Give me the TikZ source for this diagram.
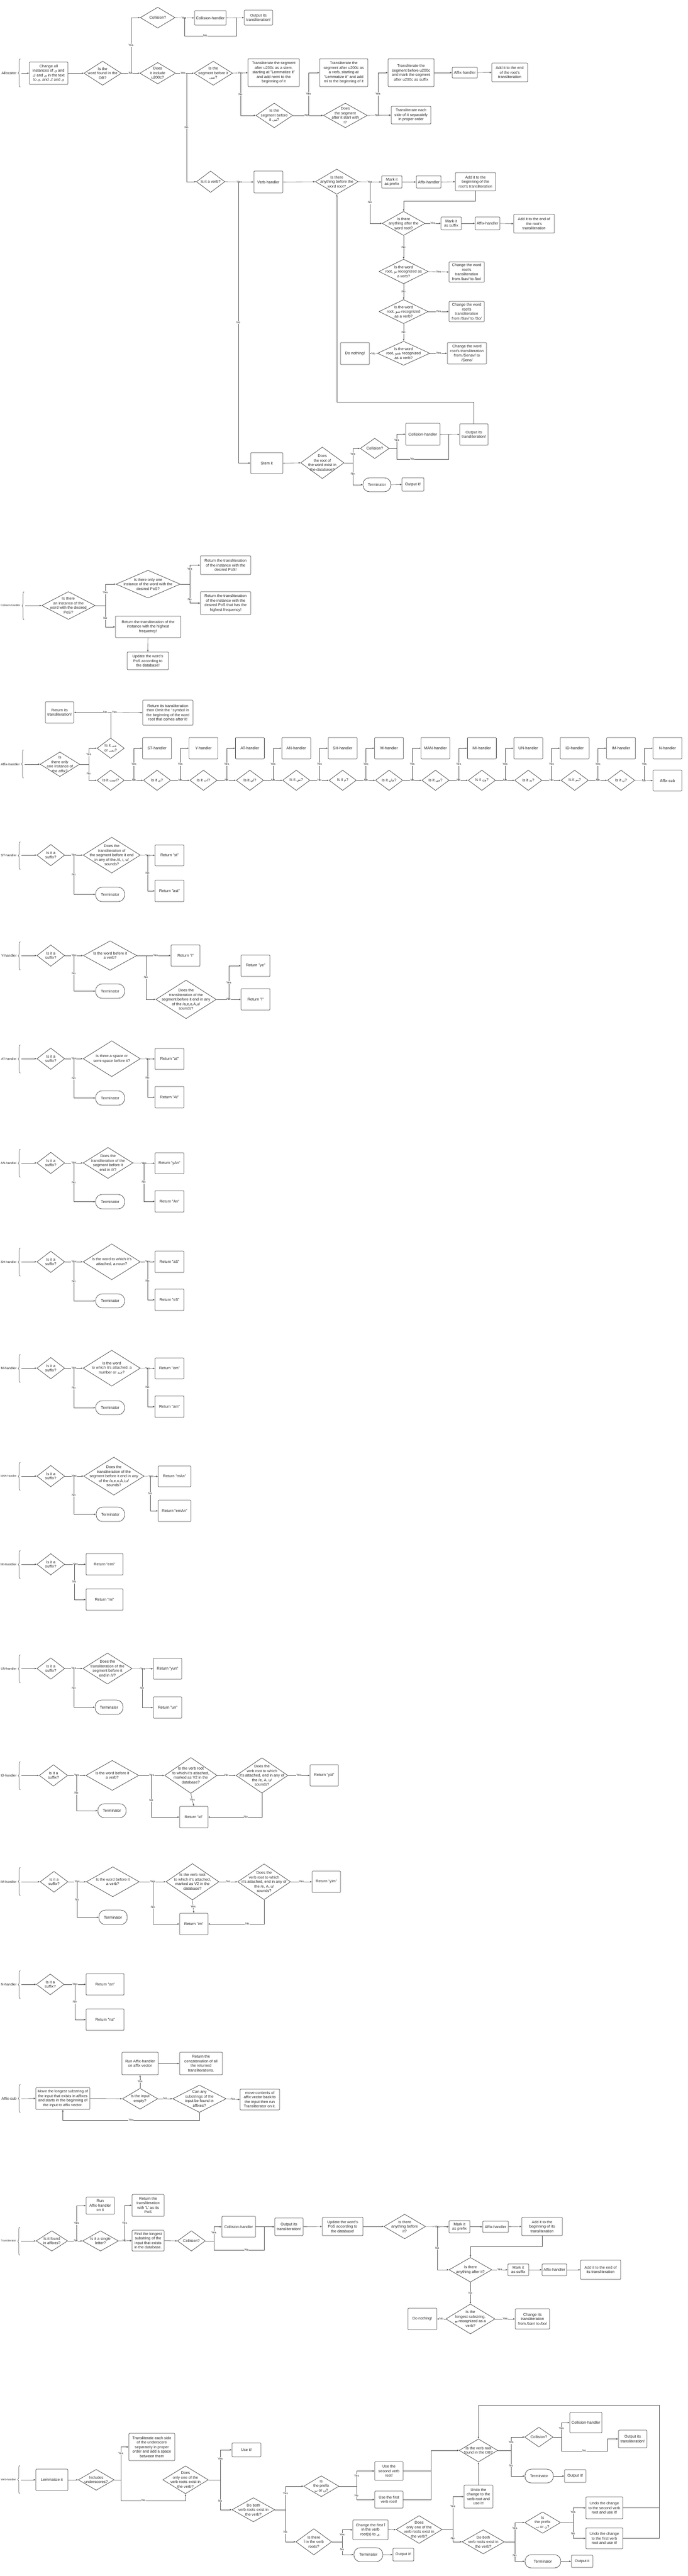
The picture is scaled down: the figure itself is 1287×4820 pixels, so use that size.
\documentclass[tikz,border=0pt]{standalone}
\usepackage{fontspec}
\setmainfont{Liberation Sans}
\newfontfamily\arfont[Script=Arabic,Scale=0.9]{DejaVu Sans}
\TeXXeTstate=1
\newcommand\AR[1]{{\arfont\beginR #1\endR}}
\usetikzlibrary{shapes.geometric,arrows.meta,decorations.pathreplacing}
\tikzset{
 base/.style={font=\fontsize{7.2}{8.5}\selectfont, text=black!85, align=center, inner sep=0pt},
 bx/.style={base, draw=black!75, line width=0.7pt, rectangle, rounded corners=1.2pt},
 tm/.style={base, draw=black!75, line width=0.7pt, rectangle, rounded corners=12pt},
 dm/.style={draw=black!75, line width=0.7pt, diamond, inner sep=0pt},
 dtx/.style={base},
 arr/.style={draw=black!65, line width=0.6pt, -{Latex[length=3.5pt,width=3pt]}},
 ln/.style={draw=black!65, line width=0.6pt},
 lbl/.style={font=\fontsize{5.6}{6}\selectfont, fill=white, inner sep=0.6pt, text=black!85},
 seclab/.style={text=black!85, anchor=east, inner sep=0pt},
 brc/.style={draw=black!70, line width=0.6pt, decorate, decoration={brace, amplitude=4pt}},
}
\newcommand\bxx[6]{\node[bx,minimum width={(#4)-(#2)},minimum height={(#5)-(#3)}] (#1) at ({((#2)+(#4))/2},{((#3)+(#5))/2}) {#6};}
\newcommand\tmm[6]{\node[tm,minimum width={(#4)-(#2)},minimum height={(#5)-(#3)}] (#1) at ({((#2)+(#4))/2},{((#3)+(#5))/2}) {#6};}
\newcommand\dmd[6]{\node[dm,minimum width=#4,minimum height=#5] (#1) at (#2,#3) {}; \node[dtx] at (#1.center) {#6};}
\newcommand\seclabel[7][7.2]{\node[seclab,font=\fontsize{#1}{8}\selectfont] (#2) at ({(#6)-7},#3) {#7}; \draw[brc] (#6,#5) -- (#6,#4); \coordinate (#2c) at ({(#6)+2},#3);}
\begin{document}
\begin{tikzpicture}[x=1pt,y=-1pt]
\fill[white] (0,0) rectangle (1287,4820);
\useasboundingbox (0,0) rectangle (1287,4820);

%================ Allocator =================
\seclabel{alloc}{137}{110}{163}{38}{Allocator}
\bxx{a1}{55}{116}{127}{158}{Change all\\instances of \AR{ي} and\\\AR{ك} and \AR{ى} in the text\\to \AR{ی}, and \AR{ک} and \AR{ی}}
\dmd{a2}{192}{137}{70}{45}{Is the\\word found in the\\DB?}
\dmd{a3}{295}{33}{65}{39}{Collision?}
\bxx{a4}{364}{20}{423}{47}{Collision-handler}
\bxx{a5}{457}{19}{510}{47}{Output its\\transliteration!}
\dmd{a6}{295}{137}{67}{40}{Does\\it include\\u200c?}
\dmd{a7}{399}{137}{72}{45}{Is the\\segment before it\\\AR{نمی}?}
\bxx{b1}{464}{110}{560}{162}{Transliterate the segment\\after u200c as a stem,\\starting at "Lemmatize it"\\and add nemi to the\\beginning of it}
\bxx{b2}{598}{110}{688}{162}{Transliterate the\\segment after u200c as\\a verb, starting at\\"Lemmatize it" and add\\mi to the beginning of it}
\bxx{b3}{726}{110}{812}{162}{Transliterate the\\segment before u200c\\and mark the segment\\after u200c as suffix}
\bxx{b4}{846}{126}{893}{146}{Affix-handler}
\bxx{b5}{920}{118}{987}{153}{Add it to the end\\of the root's\\transliteration}
\dmd{a8}{513}{216}{69}{46}{Is the\\segment before\\it \AR{می}?}
\dmd{a9}{646}{216}{82}{46}{Does\\the segment\\after it start with\\\AR{ا}?}
\bxx{b6}{732}{199}{806}{232}{Transliterate each\\side of it separately\\in proper order}

\draw[arr] (allocc) -- (a1.west);
\draw[arr] (a1.east) -- (a2.west);
\draw[arr] (a2.east) -- node[lbl]{No} (a6.west);
\draw[arr] (245,137) |- node[lbl,pos=.25]{Yes} (a3.west);
\draw[arr] (a3.east) -- node[lbl,pos=.45]{Yes} (a4.west);
\draw[arr] (a4.east) -- (a5.west);
\draw[ln] (345,33) -- (345,67) -- node[lbl,pos=.4]{No} (442,67) -- (442,33);
\draw[arr] (a6.east) -- node[lbl,pos=.4]{Yes} (a7.west);
\draw[arr] (a7.east) -- node[lbl]{Yes} (b1.west);
\draw[arr] (450,137) |- node[lbl,pos=.25]{No} (a8.west);
\draw[arr] (a8.east) -- node[lbl,pos=.45]{No} (a9.west);
\draw[arr] (577,216) |- node[lbl,pos=.25]{Yes} (b2.west);
\draw[arr] (a9.east) -- node[lbl,pos=.4]{No} (b6.west);
\draw[arr] (707,216) |- node[lbl,pos=.25]{Yes} (b3.west);
\draw[arr] (b3.east) -- (b4.west);
\draw[arr] (b4.east) -- (b5.west);

%================ Verb part =================
\dmd{c1}{394}{340}{53}{40}{Is it a verb?}
\bxx{c2}{475}{320}{529}{361}{Verb-handler}
\dmd{c3}{630}{340}{80}{47}{Is there\\anything before the\\word root?}
\bxx{c4}{714}{329}{752}{352}{Mark it\\as prefix}
\bxx{c5}{779}{329}{825}{352}{Affix-handler}
\bxx{c6}{852}{323}{927}{357}{Add it to the\\beginning of the\\root's transliteration}
\dmd{c7}{755}{418}{80}{45}{Is there\\anything after the\\word root?}
\bxx{c8}{825}{406}{863}{430}{Mark it\\as suffix}
\bxx{c9}{889}{406}{935}{430}{Affix-handler}
\bxx{c10}{961}{401}{1037}{436}{Add it to the end of\\the root's\\transliteration}
\dmd{c11}{755}{508}{92}{46}{Is the word\\root, \AR{بو} recognized as\\a verb?}
\bxx{c12}{840}{490}{906}{528}{Change the word\\root's\\transliteration\\from /bav/ to /bo/}
\dmd{c13}{755}{583}{92}{45}{Is the word\\root, \AR{شو} recognized\\as a verb?}
\bxx{c14}{840}{564}{906}{602}{Change the word\\root's\\transliteration\\from /Sav/ to /So/}
\dmd{c15}{755}{661}{98}{45}{Is the word\\root, \AR{شنو} recognized\\as a verb?}
\bxx{c16}{837}{641}{910}{681}{Change the word\\root's transliteration\\from /Senav/ to\\/Seno/}
\bxx{c17}{637}{641}{691}{682}{Do nothing!}
\bxx{c18}{469}{847}{529}{886}{Stem it}
\dmd{c19}{603}{866}{81}{59}{Does\\the root of\\the word exist in\\the database?}
\dmd{c20}{701}{839}{54}{38}{Collision?}
\bxx{c21}{759}{792}{823}{833}{Collision-handler}
\bxx{c22}{860}{793}{913}{833}{Output its\\transliteration!}
\tmm{c23}{679}{894}{731}{920}{Terminator}
\bxx{c24}{752}{894}{793}{919}{Output it!}

\draw[arr] (349,137) |- node[lbl,pos=.25]{No} (c1.west);
\draw[arr] (c1.east) -- node[lbl]{Yes} (c2.west);
\draw[arr] (446,340) |- node[lbl,pos=.25]{No} (c18.west);
\draw[arr] (c2.east) -- (c3.west);
\draw[arr] (c3.east) -- node[lbl]{Yes} (c4.west);
\draw[arr] (692,340) |- node[lbl,pos=.25]{No} (c7.west);
\draw[arr] (c4.east) -- (c5.west);
\draw[arr] (c5.east) -- (c6.west);
\draw[arr] (c6.south) -- (889.5,376) -| (c7.north);
\draw[arr] (c7.east) -- node[lbl]{Yes} (c8.west);
\draw[arr] (c8.east) -- (c9.west);
\draw[arr] (c9.east) -- (c10.west);
\draw[arr] (c7.south) -- node[lbl]{No} (c11.north);
\draw[arr] (c11.east) -- node[lbl]{Yes} (c12.west);
\draw[arr] (c11.south) -- node[lbl]{No} (c13.north);
\draw[arr] (c13.east) -- node[lbl]{Yes} (c14.west);
\draw[arr] (c13.south) -- node[lbl]{No} (c15.north);
\draw[arr] (c15.east) -- node[lbl]{Yes} (c16.west);
\draw[arr] (c15.west) -- node[lbl]{No} (c17.east);
\draw[arr] (c22.north) -- (886.5,752) -| (c3.south);
\draw[arr] (c18.east) -- (c19.west);
\draw[ln] (c19.east) -- (660,866);
\draw[arr] (660,866) |- node[lbl,pos=.3]{Yes} (c20.west);
\draw[arr] (660,866) |- node[lbl,pos=.25]{No} (c23.west);
\draw[ln] (c20.east) -- (742,839);
\draw[arr] (742,839) |- node[lbl,pos=.3]{Yes} (c21.west);
\draw[ln] (742,839) -- (742,859) -- node[lbl,pos=.3]{No} (839,859) -- (839,813);
\draw[arr] (c21.east) -- (c22.west);
\draw[arr] (c23.east) -- (c24.west);

%================ Collision-handler =================
\seclabel[4.9]{coll}{1133}{1107}{1160}{45}{Collision-handler}
\dmd{d1}{128}{1133}{100}{52}{Is there\\an instance of the\\word with the desired\\PoS?}
\dmd{d2}{277}{1093}{120}{52}{Is there only one\\instance of the word with the\\desired PoS?}
\bxx{d3}{375}{1040}{469}{1075}{Return the transliteration\\of the instance with the\\desired PoS!}
\bxx{d4}{375}{1107}{469}{1150}{Return the transliteration\\of the instance with the\\desired PoS that has the\\highest frequency!}
\bxx{d5}{216}{1153}{338}{1193}{Return the transliteration of the\\instance with the highest\\frequency!}
\bxx{d6}{238}{1220}{315}{1253}{Update the word's\\PoS according to\\the database!}
\draw[arr] (collc) -- (d1.west);
\draw[ln] (d1.east) -- (197,1133);
\draw[arr] (197,1133) |- node[lbl,pos=.3]{Yes} (d2.west);
\draw[arr] (197,1133) |- node[lbl,pos=.3]{No} (d5.west);
\draw[ln] (d2.east) -- (355,1093);
\draw[arr] (355,1093) |- node[lbl,pos=.4]{Yes} (d3.west);
\draw[arr] (355,1093) |- node[lbl,pos=.4]{No} (d4.west);
\draw[arr] (d5.south) -- (d6.north);

%================ Affix-handler =================
\seclabel[6.3]{affh}{1430}{1403}{1456}{44}{Affix-handler}
\dmd{e1}{112}{1430}{74}{46}{Is\\there only\\one instance of\\the affix?}
\dmd{e2}{207}{1400}{51}{38}{Is it \AR{می}\\or \AR{نمی}?}
\bxx{e3}{85}{1313}{138}{1353}{Return its\\transliteration!}
\bxx{e4}{267}{1310}{361}{1357}{Return its transliteration\\then Omit the ' symbol in\\the beginning of the word\\root that comes after it!}

\dmd{f0}{207}{1460}{51}{38}{Is it \AR{است}?}
\dmd{f1}{293.8}{1460}{51}{38}{Is it \AR{ی}?}
\dmd{f2}{380.6}{1460}{51}{38}{Is it \AR{ات}?}
\dmd{f3}{467.4}{1460}{51}{38}{Is it \AR{ان}?}
\dmd{f4}{554.2}{1460}{51}{38}{Is it \AR{ش}?}
\dmd{f5}{641}{1460}{51}{38}{Is it \AR{م}?}
\dmd{f6}{727.8}{1460}{51}{38}{Is it \AR{مان}?}
\dmd{f7}{814.6}{1460}{51}{38}{Is it \AR{می}?}
\dmd{f8}{901.4}{1460}{51}{38}{Is it \AR{ون}?}
\dmd{f9}{988.2}{1460}{51}{38}{Is it \AR{ید}?}
\dmd{f10}{1075}{1460}{51}{38}{Is it \AR{یم}?}
\dmd{f11}{1161.8}{1460}{51}{38}{Is it \AR{ن}?}
\bxx{g0}{266.8}{1380}{320.8}{1420}{ST-handler}
\bxx{g1}{353.6}{1380}{407.6}{1420}{Y-handler}
\bxx{g2}{440.4}{1380}{494.4}{1420}{AT-handler}
\bxx{g3}{527.2}{1380}{581.2}{1420}{AN-handler}
\bxx{g4}{614}{1380}{668}{1420}{SH-handler}
\bxx{g5}{700.8}{1380}{754.8}{1420}{M-handler}
\bxx{g6}{787.6}{1380}{841.6}{1420}{MAN-handler}
\bxx{g7}{874.4}{1380}{928.4}{1420}{MI-handler}
\bxx{g8}{961.2}{1380}{1015.2}{1420}{UN-handler}
\bxx{g9}{1048}{1380}{1102}{1420}{ID-handler}
\bxx{g10}{1134.8}{1380}{1188.8}{1420}{IM-handler}
\bxx{g11}{1221.6}{1380}{1275.6}{1420}{N-handler}
\bxx{h0}{1221.6}{1441}{1275.6}{1480}{Affix-sub}

\draw[arr] (affhc) -- (e1.west);
\draw[ln] (e1.east) -- (166,1430);
\draw[arr] (166,1430) |- node[lbl,pos=.3]{Yes} (e2.west);
\draw[arr] (166,1430) |- node[lbl,pos=.3]{No} (f0.west);
\draw[ln] (e2.north) -- (207,1333);
\draw[arr] (207,1333) -- node[lbl,pos=.15]{No} (e3.east);
\draw[arr] (207,1333) -- node[lbl,pos=.12]{Yes} (e4.west);
\foreach \i/\j in {0/1,1/2,2/3,3/4,4/5,5/6,6/7,7/8,8/9,9/10,10/11}{
  \draw[arr] (f\i.east) -- node[lbl]{No} (f\j.west);
}
\draw[arr] (f11.east) -- node[lbl]{No} (h0.west);
\foreach \i in {0,...,11}{
  \pgfmathsetmacro\bxp{250.4+86.8*\i}
  \draw[arr] (\bxp,1460) |- node[lbl,pos=.25]{Yes} (g\i.west);
}

%================ ST-handler =================
\seclabel[5.9]{st}{1600}{1575}{1627}{38}{ST-handler}
\dmd{st1}{95}{1600}{52}{40}{Is it a\\suffix?}
\dmd{st2}{209}{1600}{107}{67}{Does the\\transliteration of\\the segment before it end\\in any of the /A, i, u/\\sounds?}
\bxx{st3}{290}{1581}{344}{1620}{Return "st"}
\bxx{st4}{290}{1647}{344}{1687}{Return "ast"}
\tmm{st5}{179}{1660}{233}{1687}{Terminator}
\draw[arr] (stc) -- (st1.west);
\draw[arr] (st1.east) -- node[lbl]{Yes} (st2.west);
\draw[arr] (138,1600) |- node[lbl,pos=.25]{No} (st5.west);
\draw[arr] (st2.east) -- node[lbl]{Yes} (st3.west);
\draw[arr] (276,1600) |- node[lbl,pos=.25]{No} (st4.west);

%================ Y-handler =================
\seclabel[6.7]{yh}{1788}{1762}{1815}{38}{Y-handler}
\dmd{y1}{95}{1788}{52}{40}{Is it a\\suffix?}
\dmd{y2}{206}{1788}{100}{55}{Is the word before it\\a verb?}
\bxx{y3}{320}{1768}{374}{1808}{Return "i"}
\dmd{y4}{348}{1870}{113}{72}{Does the\\transliteration of the\\segment before it end in any\\of the /a,e,o,A,u/\\sounds?}
\bxx{y5}{451}{1787}{505}{1827}{Return "ye"}
\bxx{y6}{451}{1850}{505}{1890}{Return "i"}
\tmm{y7}{179}{1841}{233}{1868}{Terminator}
\draw[arr] (yhc) -- (y1.west);
\draw[arr] (y1.east) -- node[lbl]{Yes} (y2.west);
\draw[arr] (138,1788) |- node[lbl,pos=.25]{No} (y7.west);
\draw[arr] (y2.east) -- node[lbl,pos=.55]{Yes} (y3.west);
\draw[arr] (273,1788) |- node[lbl,pos=.25]{No} (y4.west);
\draw[arr] (y4.east) -- node[lbl]{No} (y6.west);
\draw[arr] (428,1870) |- node[lbl,pos=.25]{Yes} (y5.west);

%================ AT-handler =================
\seclabel[5.9]{ath}{1981}{1955}{2008}{38}{AT-handler}
\dmd{at1}{95}{1981}{52}{40}{Is it a\\suffix?}
\dmd{at2}{209}{1981}{107}{67}{Is there a space or\\semi-space before it?}
\bxx{at3}{290}{1962}{344}{2001}{Return "at"}
\bxx{at4}{290}{2033}{344}{2073}{Return "At"}
\tmm{at5}{179}{2041}{233}{2068}{Terminator}
\draw[arr] (athc) -- (at1.west);
\draw[arr] (at1.east) -- node[lbl]{Yes} (at2.west);
\draw[arr] (138,1981) |- node[lbl,pos=.25]{No} (at5.west);
\draw[arr] (at2.east) -- node[lbl]{Yes} (at3.west);
\draw[arr] (276,1981) |- node[lbl,pos=.25]{No} (at4.west);

%================ AN-handler =================
\seclabel[5.8]{anh}{2176}{2150}{2203}{38}{AN-handler}
\dmd{an1}{95}{2176}{52}{40}{Is it a\\suffix?}
\dmd{an2}{202}{2176}{93}{58}{Does the\\transliteration of the\\segment before it\\end in /i/?}
\bxx{an3}{290}{2157}{344}{2196}{Return "yAn"}
\bxx{an4}{290}{2228}{344}{2268}{Return "An"}
\tmm{an5}{179}{2235}{233}{2262}{Terminator}
\draw[arr] (anhc) -- (an1.west);
\draw[arr] (an1.east) -- node[lbl]{Yes} (an2.west);
\draw[arr] (138,2176) |- node[lbl,pos=.25]{No} (an5.west);
\draw[arr] (an2.east) -- node[lbl]{Yes} (an3.west);
\draw[arr] (269,2176) |- node[lbl,pos=.25]{No} (an4.west);

%================ SH-handler =================
\seclabel[5.8]{shh}{2361}{2335}{2388}{38}{SH-handler}
\dmd{sh1}{95}{2361}{52}{40}{Is it a\\suffix?}
\dmd{sh2}{209}{2361}{107}{67}{Is the word to which it's\\attached, a noun?}
\bxx{sh3}{290}{2341}{344}{2381}{Return "aS"}
\bxx{sh4}{290}{2412}{344}{2452}{Return "eS"}
\tmm{sh5}{179}{2421}{233}{2447}{Terminator}
\draw[arr] (shhc) -- (sh1.west);
\draw[arr] (sh1.east) -- node[lbl]{Yes} (sh2.west);
\draw[arr] (138,2361) |- node[lbl,pos=.25]{No} (sh5.west);
\draw[arr] (sh2.east) -- node[lbl]{Yes} (sh3.west);
\draw[arr] (276,2361) |- node[lbl,pos=.25]{No} (sh4.west);

%================ M-handler =================
\seclabel[6.5]{mh}{2560}{2534}{2587}{38}{M-handler}
\dmd{m1}{95}{2560}{52}{40}{Is it a\\suffix?}
\dmd{m2}{209}{2560}{107}{67}{Is the word\\to which it's attached, a\\number or \AR{چند}?}
\bxx{m3}{290}{2541}{344}{2580}{Return "om"}
\bxx{m4}{290}{2612}{344}{2652}{Return "am"}
\tmm{m5}{179}{2621}{233}{2647}{Terminator}
\draw[arr] (mhc) -- (m1.west);
\draw[arr] (m1.east) -- node[lbl]{Yes} (m2.west);
\draw[arr] (138,2560) |- node[lbl,pos=.25]{No} (m5.west);
\draw[arr] (m2.east) -- node[lbl]{Yes} (m3.west);
\draw[arr] (276,2560) |- node[lbl,pos=.25]{No} (m4.west);

%================ MAN-handler =================
\seclabel[5.0]{manh}{2762}{2736}{2789}{38}{MAN-handler}
\dmd{man1}{95}{2762}{52}{40}{Is it a\\suffix?}
\dmd{man2}{213}{2762}{113}{71}{Does the\\transliteration of the\\segment before it end in any\\of the /a,e,o,A,i,u/\\sounds?}
\bxx{man3}{296}{2743}{357}{2782}{Return "mAn"}
\bxx{man4}{296}{2807}{357}{2847}{Return "emAn"}
\tmm{man5}{180}{2820}{233}{2847}{Terminator}
\draw[arr] (manhc) -- (man1.west);
\draw[arr] (man1.east) -- node[lbl]{Yes} (man2.west);
\draw[arr] (138,2762) |- node[lbl,pos=.25]{No} (man5.west);
\draw[arr] (man2.east) -- node[lbl]{Yes} (man3.west);
\draw[arr] (281,2762) |- node[lbl,pos=.25]{No} (man4.west);

%================ MI-handler =================
\seclabel[6.2]{mih}{2927}{2901}{2954}{38}{MI-handler}
\dmd{mi1}{95}{2927}{52}{40}{Is it a\\suffix?}
\bxx{mi2}{161}{2907}{230}{2947}{Return "emi"}
\bxx{mi3}{161}{2973}{230}{3013}{Return "mi"}
\draw[arr] (mihc) -- (mi1.west);
\draw[arr] (mi1.east) -- node[lbl]{Yes} (mi2.west);
\draw[arr] (139,2927) |- node[lbl,pos=.25]{No} (mi3.west);

%================ UN-handler =================
\seclabel[5.7]{unh}{3122}{3096}{3149}{38}{UN-handler}
\dmd{un1}{95}{3122}{52}{40}{Is it a\\suffix?}
\dmd{un2}{201}{3122}{92}{58}{Does the\\transliteration of the\\segment before it\\end in /i/?}
\bxx{un3}{287}{3103}{340}{3142}{Return "yun"}
\bxx{un4}{287}{3175}{340}{3215}{Return "un"}
\tmm{un5}{178}{3181}{230}{3208}{Terminator}
\draw[arr] (unhc) -- (un1.west);
\draw[arr] (un1.east) -- node[lbl]{Yes} (un2.west);
\draw[arr] (138,3122) |- node[lbl,pos=.25]{No} (un5.west);
\draw[arr] (un2.east) -- node[lbl]{Yes} (un3.west);
\draw[arr] (266,3122) |- node[lbl,pos=.25]{No} (un4.west);

%================ ID-handler =================
\seclabel[6.3]{idh}{3322}{3296}{3349}{38}{ID-handler}
\dmd{id1}{100}{3322}{53}{40}{Is it a\\suffix?}
\dmd{id2}{210}{3322}{99}{56}{Is the word before it\\a verb?}
\dmd{id3}{357}{3322}{98}{67}{Is the verb root\\to which it's attached,\\marked as V2 in the\\database?}
\dmd{id4}{490}{3322}{97}{66}{Does the\\verb root to which\\it's attached, end in any of\\the /e, A, u/\\sounds?}
\bxx{id5}{580}{3302}{633}{3342}{Return "yid"}
\bxx{id6}{336}{3380}{389}{3420}{Return "id"}
\tmm{id7}{183}{3375}{236}{3401}{Terminator}
\draw[arr] (idhc) -- (id1.west);
\draw[arr] (id1.east) -- node[lbl]{Yes} (id2.west);
\draw[arr] (143,3322) |- node[lbl,pos=.25]{No} (id7.west);
\draw[arr] (id2.east) -- node[lbl]{Yes} (id3.west);
\draw[arr] (283,3322) |- node[lbl,pos=.3]{No} (id6.west);
\draw[arr] (id3.east) -- node[lbl]{No} (id4.west);
\draw[arr] (id4.east) -- node[lbl]{Yes} (id5.west);
\draw[arr] (id3.south) -- node[lbl]{Yes} (id6.north);
\draw[arr] (id4.south) |- node[lbl,pos=.65]{No} (id6.east);

%================ IM-handler =================
\seclabel[6.2]{imh}{3521}{3494}{3547}{38}{IM-handler}
\dmd{im1}{101}{3521}{52}{39}{Is it a\\suffix?}
\dmd{im2}{211}{3521}{99}{56}{Is the word before it\\a verb?}
\dmd{im3}{360}{3521}{99}{68}{Is the verb root\\to which it's attached,\\marked as V2 in the\\database?}
\dmd{im4}{494}{3521}{99}{67}{Does the\\verb root to which\\it's attached, end in any of\\the /e, A, u/\\sounds?}
\bxx{im5}{584}{3501}{637}{3541}{Return "yim"}
\bxx{im6}{336}{3580}{389}{3620}{Return "im"}
\tmm{im7}{185}{3574}{238}{3601}{Terminator}
\draw[arr] (imhc) -- (im1.west);
\draw[arr] (im1.east) -- node[lbl]{Yes} (im2.west);
\draw[arr] (144,3521) |- node[lbl,pos=.25]{No} (im7.west);
\draw[arr] (im2.east) -- node[lbl]{Yes} (im3.west);
\draw[arr] (286,3521) |- node[lbl,pos=.3]{No} (im6.west);
\draw[arr] (im3.east) -- node[lbl]{No} (im4.west);
\draw[arr] (im4.east) -- node[lbl]{Yes} (im5.west);
\draw[arr] (im3.south) -- node[lbl]{Yes} (im6.north);
\draw[arr] (im4.south) |- node[lbl,pos=.65]{No} (im6.east);

%================ N-handler =================
\seclabel[6.6]{nh}{3713}{3687}{3740}{38}{N-handler}
\dmd{n1}{94}{3713}{52}{39}{Is it a\\suffix?}
\bxx{n2}{161}{3693}{232}{3733}{Return "an"}
\bxx{n3}{161}{3759}{232}{3799}{Return "na"}
\draw[arr] (nhc) -- (n1.west);
\draw[arr] (n1.east) -- node[lbl]{Yes} (n2.west);
\draw[arr] (140,3713) |- node[lbl,pos=.25]{No} (n3.west);

%================ Affix-sub =================
\seclabel{asub}{3927}{3900}{3953}{38}{Affix-sub}
\bxx{k1}{67}{3906}{168}{3947}{Move the longest substring of\\the input that exists in affixes\\and starts in the beginning of\\the input to affix vector.}
\dmd{k2}{262}{3927}{66}{39}{Is the input\\empty?}
\bxx{k3}{228}{3840}{296}{3882}{Run Affix-handler\\on affix vector}
\bxx{k4}{336}{3840}{416}{3882}{Return the\\concatenation of all\\the returned\\transliterations.}
\dmd{k5}{373}{3927}{100}{51}{Can any\\substrings of the\\input be found in\\affixes?}
\bxx{k6}{449}{3909}{523}{3948}{move contents of\\affix vector back to\\the input then run\\Transliterator on it.}
\draw[arr] (asubc) -- (k1.west);
\draw[arr] (k1.east) -- (k2.west);
\draw[arr] (k2.north) -- node[lbl]{Yes} (k3.south);
\draw[arr] (k3.east) -- (k4.west);
\draw[arr] (k2.east) -- node[lbl]{No} (k5.west);
\draw[arr] (k5.east) -- node[lbl]{No} (k6.west);
\draw[arr] (k5.south) -- (373,3967) -| node[lbl,pos=.25]{Yes} (k1.south);

%================ Transliterator =================
\seclabel[4.8]{tr}{4193}{4167}{4220}{37}{Transliterator}
\dmd{l1}{97}{4193}{59}{38}{Is it found\\in affixes?}
\bxx{l2}{161}{4111}{214}{4143}{Run\\Affix-handler\\on it}
\dmd{l3}{188}{4193}{67}{38}{Is it a single\\letter?}
\bxx{l4}{247}{4106}{307}{4147}{Return the\\transliteration\\with 'L' as its\\PoS}
\bxx{l5}{247}{4173}{307}{4212}{Find the longest\\substring of the\\input that exists\\in the database.}
\dmd{l6}{358}{4193}{52}{38}{Collision?}
\bxx{l7}{415}{4147}{478}{4186}{Collision-handler}
\bxx{l8}{514}{4150}{567}{4183}{Output its\\transliteration!}
\bxx{l9}{603}{4149}{679}{4183}{Update the word's\\PoS according to\\the database!}
\dmd{l10}{757}{4166}{78}{46}{Is there\\anything before\\it?}
\bxx{l11}{840}{4155}{879}{4178}{Mark it\\as prefix}
\bxx{l12}{903}{4156}{951}{4177}{Affix-handler}
\bxx{l13}{976}{4149}{1052}{4183}{Add it to the\\beginning of its\\transliteration}
\dmd{l14}{880}{4247}{80}{46}{Is there\\anything after it?}
\bxx{l15}{950}{4236}{989}{4258}{Mark it\\as suffix}
\bxx{l16}{1014}{4236}{1060}{4258}{Affix-handler}
\bxx{l17}{1086}{4229}{1161}{4265}{Add it to the end of\\its transliteration}
\dmd{l18}{880}{4339}{92}{56}{Is the\\longest substring,\\\AR{بو} recognized as a\\verb?}
\bxx{l19}{964}{4320}{1028}{4358}{Change its\\transliteration\\from /bav/ to /bo/}
\bxx{l20}{763}{4319}{817}{4359}{Do nothing!}
\draw[arr] (trc) -- (l1.west);
\draw[arr] (l1.east) -- node[lbl,pos=.55]{No} (l3.west);
\draw[arr] (143,4193) |- node[lbl,pos=.25]{Yes} (l2.west);
\draw[arr] (l3.east) -- node[lbl,pos=.45]{No} (l5.west);
\draw[arr] (233,4193) |- node[lbl,pos=.25]{Yes} (l4.west);
\draw[arr] (l5.east) -- (l6.west);
\draw[ln] (l6.east) -- (400,4193);
\draw[arr] (400,4193) |- node[lbl,pos=.3]{Yes} (l7.west);
\draw[ln] (400,4193) -- (400,4210) -- node[lbl,pos=.65]{No} (494,4210) -- (494,4166.5);
\draw[arr] (l7.east) -- (l8.west);
\draw[arr] (l8.east) -- (l9.west);
\draw[arr] (l9.east) -- (l10.west);
\draw[arr] (l10.east) -- node[lbl]{Yes} (l11.west);
\draw[arr] (818,4166) |- node[lbl,pos=.25]{No} (l14.west);
\draw[arr] (l11.east) -- (l12.west);
\draw[arr] (l12.east) -- (l13.west);
\draw[arr] (l13.south) -- (1014,4203) -| (l14.north);
\draw[arr] (l14.east) -- node[lbl]{Yes} (l15.west);
\draw[arr] (l15.east) -- (l16.west);
\draw[arr] (l16.east) -- (l17.west);
\draw[arr] (l14.south) -- node[lbl]{No} (l18.north);
\draw[arr] (l18.east) -- node[lbl]{Yes} (l19.west);
\draw[arr] (l18.west) -- node[lbl]{No} (l20.east);

%================ Verb-handler =================
\seclabel[4.9]{vh}{4640}{4613}{4666}{37}{Verb-handler}
\bxx{v1}{67}{4620}{127}{4660}{Lemmatize it}
\dmd{v2}{180}{4640}{67}{39}{Includes\\underscores?}
\bxx{v3}{241}{4553}{327}{4604}{Transliterate each side\\of the underscore\\separately in proper\\order and add a space\\between them}
\dmd{v4}{347}{4640}{85}{52}{Does\\only one of the\\verb roots exist in\\the verb?}
\bxx{v5}{434}{4571}{488}{4597}{Use it!}
\dmd{v6}{474}{4696}{80}{45}{Do both\\verb roots exist in\\the verb?}
\dmd{v7}{601}{4652}{66}{39}{Is\\the prefix\\\AR{ب} or \AR{ن}?}
\dmd{v8}{587}{4756}{67}{49}{Is there\\\AR{آ} in the verb\\roots?}
\bxx{v9}{701}{4606}{754}{4641}{Use the\\second verb\\root!}
\bxx{v10}{701}{4661}{754}{4693}{Use the first\\verb root!}
\bxx{v11}{660}{4715}{726}{4752}{Change the first \AR{آ}\\in the verb\\root(s) to \AR{ی}.}
\tmm{v12}{662}{4767}{716}{4793}{Terminator}
\bxx{v13}{735}{4768}{774}{4792}{Output it!}
\dmd{v14}{784}{4733}{86}{52}{Does\\only one of the\\verb roots exist in\\the verb?}
\bxx{v15}{868}{4650}{922}{4693}{Undo the\\change to the\\verb root and\\use it!}
\dmd{v16}{904}{4756}{79}{45}{Do both\\verb roots exist in\\the verb?}
\dmd{v17}{1015}{4720}{67}{40}{Is\\the prefix\\\AR{ب} or \AR{ن}?}
\bxx{v18}{1096}{4672}{1165}{4713}{Undo the change\\to the second verb\\root and use it!}
\bxx{v19}{1096}{4730}{1165}{4769}{Undo the change\\to the first verb\\root and use it!}
\tmm{v20}{982}{4780}{1049}{4805}{Terminator}
\bxx{v21}{1069}{4781}{1109}{4804}{Output it}
\dmd{v22}{895}{4585}{72}{43}{Is the verb root\\found in the DB?}
\dmd{v23}{1008}{4560}{53}{37}{Collision?}
\bxx{v24}{1066}{4514}{1126}{4552}{Collision-handler}
\bxx{v25}{1157}{4547}{1210}{4580}{Output its\\transliteration!}
\tmm{v26}{982}{4620}{1035}{4646}{Terminator}
\bxx{v27}{1056}{4621}{1096}{4645}{Output it!}

\draw[arr] (vhc) -- (v1.west);
\draw[arr] (v1.east) -- (v2.west);
\draw[ln] (v2.east) -- (226,4640);
\draw[arr] (226,4640) |- node[lbl,pos=.4]{Yes} (v3.west);
\draw[arr] (226,4640) -- (226,4679) -- node[lbl,pos=.35]{No} (347,4679) -- (v4.south);
\draw[ln] (v4.east) -- (412,4640);
\draw[arr] (412,4640) |- node[lbl,pos=.35]{Yes} (v5.west);
\draw[arr] (412,4640) |- node[lbl,pos=.35]{No} (v6.west);
\draw[ln] (v6.east) -- (534,4696);
\draw[arr] (534,4696) |- node[lbl,pos=.35]{Yes} (v7.west);
\draw[arr] (534,4696) |- node[lbl,pos=.35]{No} (v8.west);
\draw[ln] (v7.east) -- (667,4652);
\draw[arr] (667,4652) |- node[lbl,pos=.35]{Yes} (v9.west);
\draw[arr] (667,4652) |- node[lbl,pos=.35]{No} (v10.west);
\draw[ln] (v10.east) -| (806,4623.5);
\draw[arr] (v9.east) -- (806,4623.5) |- (v22.west);
\draw[ln] (v8.east) -- (640,4756);
\draw[arr] (640,4756) |- node[lbl,pos=.3]{Yes} (v11.west);
\draw[arr] (640,4756) |- node[lbl,pos=.3]{No} (v12.west);
\draw[arr] (v12.east) -- (v13.west);
\draw[arr] (v11.east) -- (v14.west);
\draw[ln] (v14.east) -- (847,4733);
\draw[arr] (847,4733) |- node[lbl,pos=.35]{Yes} (v15.west);
\draw[arr] (847,4733) |- node[lbl,pos=.35]{No} (v16.west);
\draw[arr] (v15.north) -- (v22.south);
\draw[ln] (v16.east) -- (963,4756);
\draw[arr] (963,4756) |- node[lbl,pos=.35]{Yes} (v17.west);
\draw[arr] (963,4756) |- node[lbl,pos=.35]{No} (v20.west);
\draw[arr] (v20.east) -- (v21.west);
\draw[ln] (v17.east) -- (1072,4720);
\draw[arr] (1072,4720) |- node[lbl,pos=.35]{Yes} (v18.west);
\draw[arr] (1072,4720) |- node[lbl,pos=.35]{No} (v19.west);
\draw[ln] (v18.east) -- (1233,4692.5);
\draw[arr] (v19.east) -- (1233,4749.5) -- (1233,4500) -| (v22.north);
\draw[ln] (v22.east) -- (956,4585);
\draw[arr] (956,4585) |- node[lbl,pos=.3]{Yes} (v23.west);
\draw[arr] (956,4585) |- node[lbl,pos=.3]{No} (v26.west);
\draw[arr] (v26.east) -- (v27.west);
\draw[ln] (v23.east) -- (1050,4560);
\draw[arr] (1050,4560) |- node[lbl,pos=.3]{Yes} (v24.west);
\draw[ln] (1050,4560) -- (1050,4586) -- node[lbl,pos=.5]{No} (1136,4586) -- (1136,4563.5);
\draw[arr] (1136,4563.5) -- (v25.west);
\end{tikzpicture}
\end{document}
